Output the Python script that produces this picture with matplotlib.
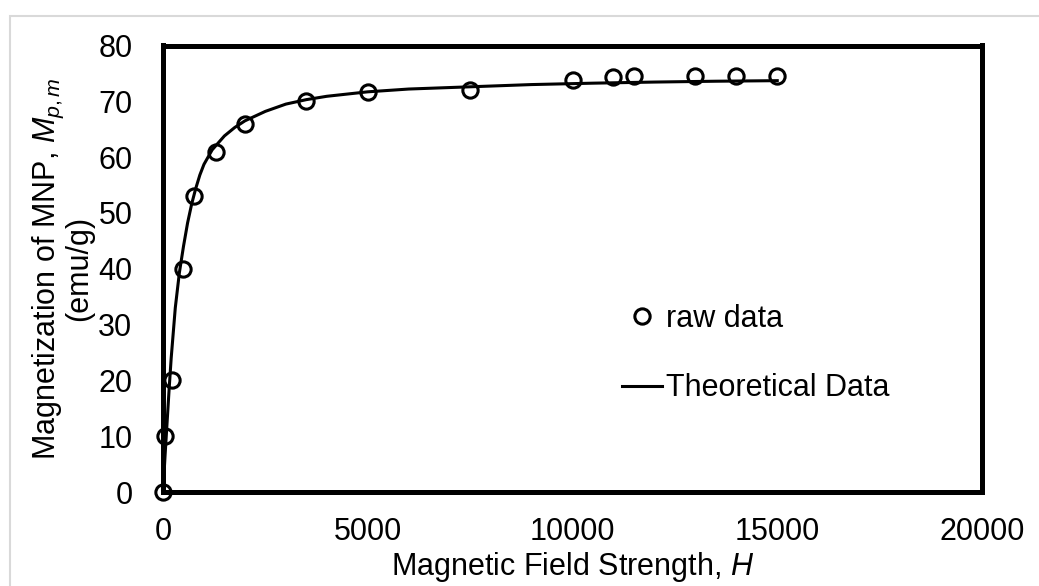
import matplotlib
matplotlib.use("Agg")
import matplotlib.pyplot as plt
from matplotlib.patches import Rectangle

field_raw = [0, 60, 220, 500, 750, 1300, 2000, 3500, 5000, 7500, 10000, 11000, 11500, 13000, 14000, 15000]
mag_raw = [0, 10, 20, 40, 53, 61, 66, 70, 71.6, 72, 73.8, 74.3, 74.6, 74.6, 74.6, 74.6]

# theoretical curve
field_fit = [0, 50, 100, 150, 200, 300, 400, 500, 600, 700, 800, 900, 1000, 1200, 1500, 1750, 2000,
             2500, 3000, 3500, 4000, 5000, 6000, 7500, 9000, 10500, 12000, 13500, 15000]
mag_fit = [0, 6.5, 12.5, 18.5, 24, 33, 39.3, 44, 48.2, 51.6, 54.4, 56.8, 58.7, 61.3, 63.8, 65.3, 66.5,
           68.2, 69.5, 70.3, 70.9, 71.7, 72.2, 72.6, 73.0, 73.25, 73.45, 73.6, 73.7]

x_ticks = [0, 5000, 10000, 15000, 20000]
y_ticks = [0, 10, 20, 30, 40, 50, 60, 70, 80]

plt.rcParams["font.family"] = ["Liberation Sans", "DejaVu Sans"]
plt.rcParams["mathtext.fontset"] = "custom"
plt.rcParams["mathtext.rm"] = "Liberation Sans"
plt.rcParams["mathtext.it"] = "Liberation Sans:italic"

W, H = 1039, 586
fig = plt.figure(figsize=(W / 100, H / 100), dpi=100)
ax = fig.add_axes([163 / W, 1 - 492 / H, (982 - 163) / W, (492 - 45.5) / H])

# light grey chart-area border (Excel style)
fig.patches.append(Rectangle((10 / W, -0.1), 1.2, 1 - 15.5 / H + 0.1, transform=fig.transFigure,
                             fill=False, edgecolor="#d9d9d9", linewidth=1.5))

ax.plot(field_fit, mag_fit, color="black", linewidth=2.2, label="Theoretical Data", zorder=2)
ax.plot(field_raw, mag_raw, linestyle="none", marker="o", markersize=11, fillstyle="none",
        markeredgewidth=2.2, color="black", label="raw data", zorder=3, clip_on=False)

ax.set_xlim(0, 20000)
ax.set_ylim(0, 80)
ax.set_xticks(x_ticks)
ax.set_yticks(y_ticks)
ax.tick_params(length=0, labelsize=22)
ax.tick_params(axis="x", pad=18)
ax.tick_params(axis="y", pad=22)
for s in ax.spines.values():
    s.set_linewidth(3.6)

ax.set_xlabel("Magnetic Field Strength, $\\mathit{H}$", fontsize=22, labelpad=2)
ax.set_ylabel("Magnetization of MNP, $M_{p,m}$\n(emu/g)", fontsize=22, labelpad=3,
              multialignment="center", linespacing=0.9)

handles, labels = ax.get_legend_handles_labels()
ax.legend(handles[::-1], labels[::-1], loc="center left", bbox_to_anchor=(0.527, 0.31),
          frameon=False, fontsize=22, labelspacing=1.3, handlelength=1.3, handletextpad=0.15)

fig.savefig("out.png", dpi=100)
